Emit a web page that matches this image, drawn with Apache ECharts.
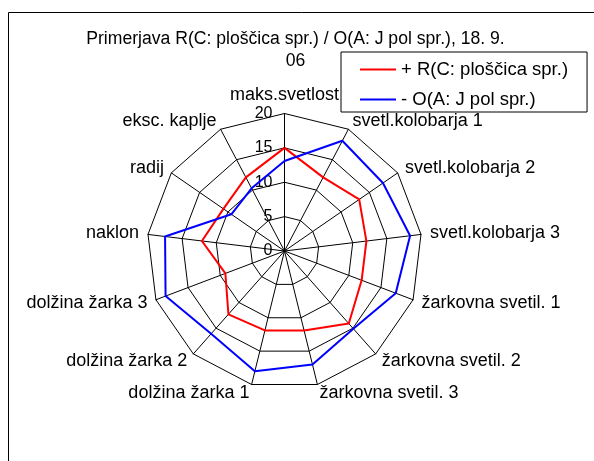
<!DOCTYPE html>
<html>
<head>
<meta charset="utf-8">
<script src="https://cdn.jsdelivr.net/npm/echarts@6/dist/echarts.min.js"></script>
<style>html,body{margin:0;padding:0;background:#fff;}#c{width:594px;height:461px;}</style>
</head>
<body>
<div id="c"></div>
<script>
const titleText = "Primerjava R(C: ploščica spr.) / O(A: J pol spr.), 18. 9.\n06";
const categories = ["maks.svetlost","svetl.kolobarja 1","svetl.kolobarja 2","svetl.kolobarja 3","žarkovna svetil. 1","žarkovna svetil. 2","žarkovna svetil. 3","dolžina žarka 1","dolžina žarka 2","dolžina žarka 3","naklon","radij","eksc. kaplje"];
const seriesNames = ["+ R(C: ploščica spr.)", "- O(A: J pol spr.)"];
const redValues  = [15, 12.1, 13.2, 12, 12, 14.1, 11.9, 11.9, 12.3, 9.2, 12.1, 10.8, 12.1];
const blueValues = [13.1, 18.1, 17.4, 18.4, 17.3, 15.1, 17, 18, 16.1, 18.5, 17.5, 9.4, 10.3];
const axisMin = 0, axisMax = 20, axisSplits = 4;

// ECharts places indicators counter-clockwise; reorder so they run clockwise like the reference
const order = [0].concat(categories.map((_, i) => i).slice(1).reverse());
const FONT = "'Liberation Sans', Arial, sans-serif";

const indicator = order.map((i, k) => {
  const ind = { name: categories[i], min: axisMin, max: axisMax };
  if (k === 0) {
    ind.axisLabel = { show: true, fontSize: 16, color: '#000', fontFamily: FONT, margin: 12 };
  }
  return ind;
});

const chart = echarts.init(document.getElementById('c'), null, { renderer: 'canvas' });
chart.setOption({
  animation: false,
  backgroundColor: '#fff',
  title: {
    text: titleText,
    left: 295.5, top: 28, padding: 0, textAlign: 'center',
    textStyle: { fontSize: 17.6, fontWeight: 'normal', color: '#000', fontFamily: FONT, lineHeight: 22 }
  },
  legend: {
    orient: 'vertical', left: 341, top: 52,
    padding: [8, 19, 3, 19], itemGap: 11, itemWidth: 36, itemHeight: 2, icon: 'rect',
    borderColor: '#000', borderWidth: 1, backgroundColor: '#fff',
    data: seriesNames,
    textStyle: { fontSize: 18.5, color: '#000', fontFamily: FONT, lineHeight: 16 }
  },
  radar: {
    center: [284.5, 251], radius: 137.5,
    shape: 'polygon', splitNumber: axisSplits,
    nameGap: 9,
    axisName: { color: '#000', fontSize: 18, fontFamily: FONT },
    axisLine: { lineStyle: { color: '#000', width: 1 } },
    splitLine: { lineStyle: { color: '#000', width: 1 } },
    splitArea: { show: false },
    axisLabel: { show: false },
    axisTick: { show: false },
    indicator: indicator
  },
  graphic: [{
    type: 'rect', shape: { x: 8.5, y: 12.5, width: 640, height: 520 },
    style: { fill: null, stroke: '#000', lineWidth: 1 }, silent: true, z: 100
  }],
  series: [{
    type: 'radar', symbol: 'none',
    data: [
      { name: seriesNames[0], value: order.map(i => redValues[i]),
        lineStyle: { color: '#ff0000', width: 2 }, itemStyle: { color: '#ff0000' } },
      { name: seriesNames[1], value: order.map(i => blueValues[i]),
        lineStyle: { color: '#0000ff', width: 2 }, itemStyle: { color: '#0000ff' } }
    ]
  }]
});
</script>
</body>
</html>
